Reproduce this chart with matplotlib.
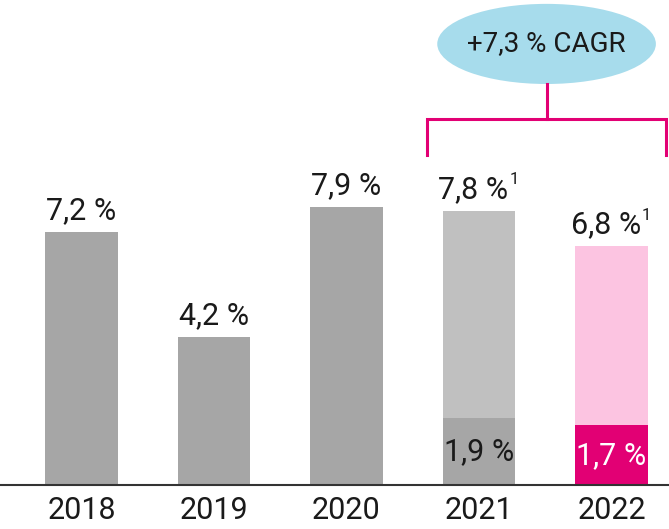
import matplotlib.pyplot as plt
from matplotlib.patches import Ellipse

plt.rcParams['font.family'] = ['Roboto', 'DejaVu Sans']

years = ['2018', '2019', '2020', '2021', '2022']
totals = [7.2, 4.2, 7.9, 7.8, 6.8]
total_labels = ['7,2 %', '4,2 %', '7,9 %', '7,8 %', '6,8 %']
footnote = [False, False, False, True, True]
base = [None, None, None, 1.9, 1.7]
base_labels = [None, None, None, '1,9 %', '1,7 %']
cagr_label = '+7,3 % CAGR'

grey = '#a6a6a6'
light_grey = '#c0c0c0'
magenta = '#e20074'
light_pink = '#fcc4e1'
blue = '#a7dcec'

top_colors = [grey, grey, grey, light_grey, light_pink]
base_colors = [None, None, None, grey, magenta]
base_text = [None, None, None, '#1a1a1a', 'white']

fig = plt.figure(figsize=(6.69, 5.29), dpi=100)
ax = fig.add_axes([0, 44 / 529, 1, 485 / 529])

x = list(range(len(years)))
w = 0.55
ax.bar(x, totals, width=w, color=top_colors)
for i in x:
    if base[i] is not None:
        ax.bar(i, base[i], width=w, color=base_colors[i])
        ax.text(i, base[i] / 2, base_labels[i], ha='center', va='center',
                fontsize=22, color=base_text[i])

for i in x:
    dx = -4 if footnote[i] else 0
    ax.annotate(total_labels[i], (i, totals[i]), xytext=(dx, 9.5),
                textcoords='offset points', ha='center', va='baseline',
                fontsize=22, color='#1a1a1a')
    if footnote[i]:
        ax.annotate('1', (i, totals[i]), xytext=(22, 19),
                    textcoords='offset points', ha='left', va='baseline',
                    fontsize=12, color='#1a1a1a')

# CAGR bracket over 2021-2022
bl, br = x[3] - 0.39, x[4] + 0.41
by, bb = 10.4, 9.4
mid = (bl + br) / 2
ax.plot([bl, bl, br, br], [bb, by, by, bb], color=magenta, lw=2.2,
        solid_joinstyle='miter', clip_on=False)
ax.plot([mid, mid], [by, 11.4], color=magenta, lw=2.2, clip_on=False)
ax.add_patch(Ellipse((mid, 12.55), 1.65, 2.28, color=blue, lw=0))
ax.text(mid, 12.55, cagr_label, ha='center', va='center', fontsize=20,
        color='#1a1a1a')

ax.set_xlim(-0.615, 4.434)
ax.set_ylim(0, 13.8)
ax.set_xticks(x)
ax.set_xticklabels(years, fontsize=22, color='#1a1a1a')
ax.tick_params(axis='x', length=0, pad=8)
ax.set_yticks([])
for s in ['top', 'right', 'left']:
    ax.spines[s].set_visible(False)
ax.spines['bottom'].set_color('#333333')
ax.spines['bottom'].set_linewidth(1.5)

fig.savefig('out.png', dpi=100)
